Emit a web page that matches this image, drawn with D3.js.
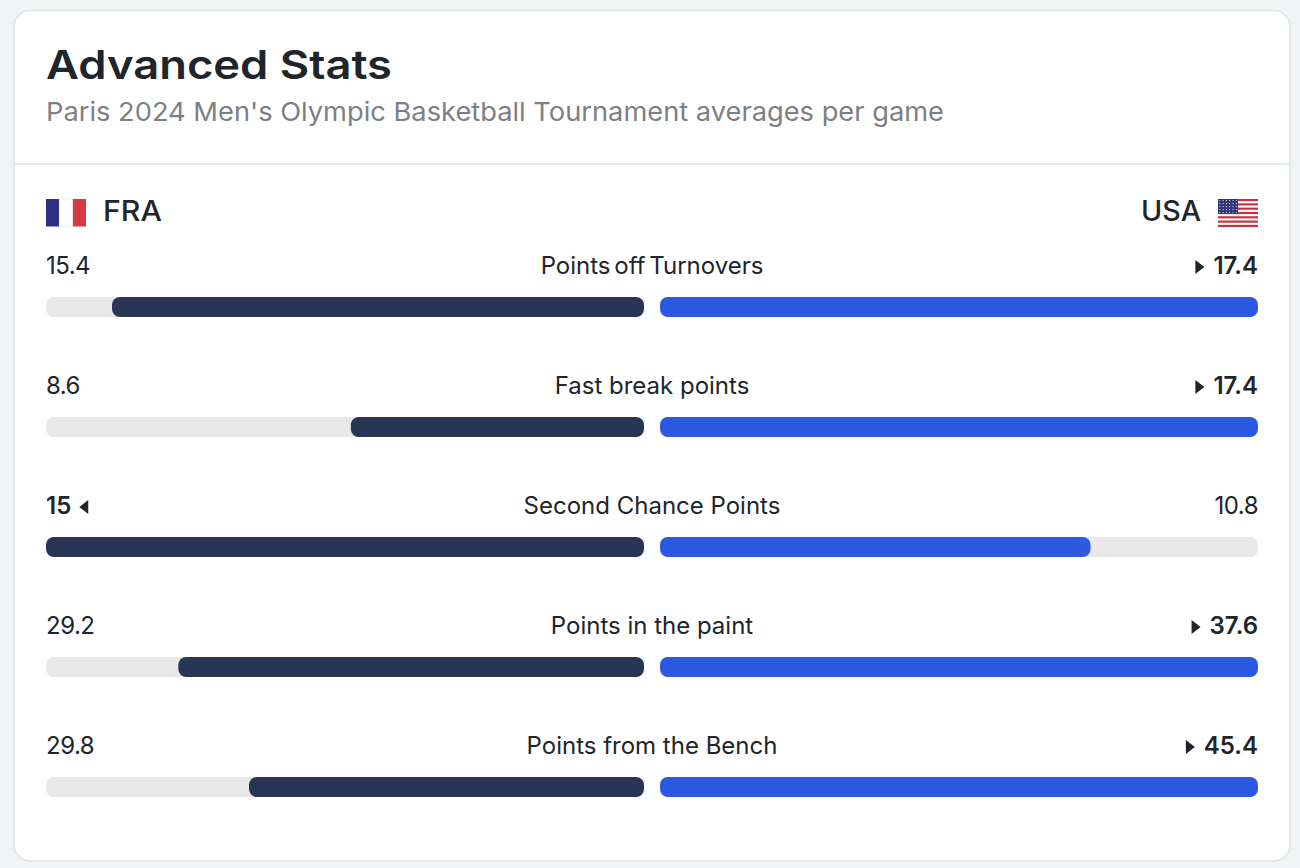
<!DOCTYPE html>
<html>
<head>
<meta charset="utf-8">
<script src="https://cdn.jsdelivr.net/npm/d3@7.9.0/dist/d3.min.js"></script>
<style>
  html, body { margin: 0; padding: 0; background: #f0f4f5; }
  svg { display: block; font-family: Inter, "Noto Sans", sans-serif; }
</style>
</head>
<body>
<svg id="chart" width="1300" height="868"></svg>
<script>
const title = 'Advanced Stats';
const subtitle = "Paris 2024 Men's Olympic Basketball Tournament averages per game";
const teams = ['FRA', 'USA'];
const categories = ['Points off Turnovers', 'Fast break points', 'Second Chance Points', 'Points in the paint', 'Points from the Bench'];
const fraValues = [15.4, 8.6, 15, 29.2, 29.8];
const usaValues = [17.4, 17.4, 10.8, 37.6, 45.4];
const fraBarValues = [15.48, 8.53, 15, 29.28, 29.99];

const ink = '#20252c';
const navy = '#293554';
const blue = '#2c59e0';
const track = '#e8e8e8';

const svg = d3.select('#chart');

// card
svg.append('rect')
  .attr('x', 14).attr('y', 10.5).attr('width', 1276).attr('height', 850.5).attr('rx', 16)
  .attr('fill', '#fff').attr('stroke', '#e5e8e8').attr('stroke-width', 2);
svg.append('line')
  .attr('x1', 14).attr('x2', 1290).attr('y1', 164).attr('y2', 164)
  .attr('stroke', '#e8eaea').attr('stroke-width', 2);

// header
svg.append('text').attr('x', 46).attr('y', 79).text(title)
  .attr('font-size', 40).attr('font-weight', 600).attr('fill', ink)
  .attr('textLength', 346).attr('lengthAdjust', 'spacingAndGlyphs');
svg.append('text').attr('x', 46).attr('y', 120.5).text(subtitle)
  .attr('font-size', 26).attr('fill', '#7d7f82')
  .attr('textLength', 898).attr('lengthAdjust', 'spacingAndGlyphs');

// team names
svg.append('text').attr('x', 103).attr('y', 221).text(teams[0])
  .attr('font-size', 28).attr('font-weight', 550).attr('fill', ink)
  .attr('textLength', 59).attr('lengthAdjust', 'spacingAndGlyphs');
svg.append('text').attr('x', 1141).attr('y', 221).text(teams[1])
  .attr('font-size', 28).attr('font-weight', 550).attr('fill', ink)
  .attr('textLength', 60).attr('lengthAdjust', 'spacingAndGlyphs');

// flags
const frFlag = svg.append('g').attr('transform', 'translate(46,199)');
['#2b3080', '#ffffff', '#d63a43'].forEach((c, i) => {
  frFlag.append('rect').attr('x', i * 40 / 3).attr('width', 40 / 3).attr('height', 27.5).attr('fill', c);
});
frFlag.append('rect').attr('x', 40 / 3).attr('width', 40 / 3).attr('height', 27.5)
  .attr('fill', 'none').attr('stroke', '#eceef0').attr('stroke-width', 0.8);

const usFlag = svg.append('g').attr('transform', 'translate(1218,199)');
usFlag.append('rect').attr('width', 40).attr('height', 28).attr('fill', '#fff');
d3.range(13).filter(i => i % 2 === 0).forEach(i => {
  usFlag.append('rect').attr('y', i * 28 / 13).attr('width', 40).attr('height', 28 / 13).attr('fill', '#c8323f');
});
usFlag.append('rect').attr('width', 20).attr('height', 15).attr('fill', '#2f3576');
d3.range(5).forEach(r => d3.range(6).forEach(c => {
  usFlag.append('circle').attr('cx', 1.8 + c * 3.3).attr('cy', 1.6 + r * 3).attr('r', 0.6).attr('fill', '#e4e6f2');
}));

// rows
const rowY = d3.scalePoint().domain(categories).range([0, 480]);
const leftEdge = 46, leftBase = 644, rightBase = 660, rightEdge = 1258;

categories.forEach((cat, i) => {
  const fra = fraValues[i], usa = usaValues[i];
  const max = Math.max(fra, usa);
  const fraX = d3.scaleLinear().domain([0, max]).range([leftBase, leftEdge]);
  const usaX = d3.scaleLinear().domain([0, max]).range([rightBase, rightEdge]);
  const g = svg.append('g').attr('transform', `translate(0,${rowY(cat)})`);

  const label = { 'font-size': 24, fill: ink };
  const put = (sel, attrs) => { Object.entries(attrs).forEach(([k, v]) => sel.attr(k, v)); return sel; };

  // the T in Turnovers leaves a wide gap in Inter
  put(g.append('text').attr('x', 652).attr('y', 274).attr('text-anchor', 'middle').text(cat), label)
    .attr('word-spacing', i === 0 ? -3 : 0);

  const fraText = put(g.append('text').attr('x', 46).attr('y', 274).text(fra), label)
    .attr('font-weight', fra > usa ? 600 : 400)
    .attr('letter-spacing', fra > usa ? 0 : -0.5);
  const usaText = put(g.append('text').attr('x', 1258).attr('y', 274).attr('text-anchor', 'end').text(usa), label)
    .attr('font-weight', usa > fra ? 600 : 400)
    .attr('letter-spacing', usa > fra ? 0 : -0.5);

  // little triangle beside the leader
  if (fra > usa) {
    const x = fraText.node().getBBox().width + 46 + 8;
    g.append('path').attr('d', `M${x + 9},260L${x},267L${x + 9},274Z`).attr('fill', ink);
  } else {
    const x = 1258 - usaText.node().getBBox().width - 9;
    g.append('path').attr('d', `M${x - 9},260L${x},267L${x - 9},274Z`).attr('fill', ink);
  }

  // tracks and bars
  g.append('rect').attr('x', leftEdge).attr('y', 297).attr('width', leftBase - leftEdge).attr('height', 20).attr('rx', 8).attr('fill', track);
  g.append('rect').attr('x', rightBase).attr('y', 297).attr('width', rightEdge - rightBase).attr('height', 20).attr('rx', 8).attr('fill', track);
  const fraBar = fraX(fraBarValues[i]);
  g.append('rect').attr('x', fraBar).attr('y', 297).attr('width', leftBase - fraBar).attr('height', 20).attr('rx', 8).attr('fill', navy);
  g.append('rect').attr('x', rightBase).attr('y', 297).attr('width', usaX(usa) - rightBase).attr('height', 20).attr('rx', 8).attr('fill', blue);
});
</script>
</body>
</html>
